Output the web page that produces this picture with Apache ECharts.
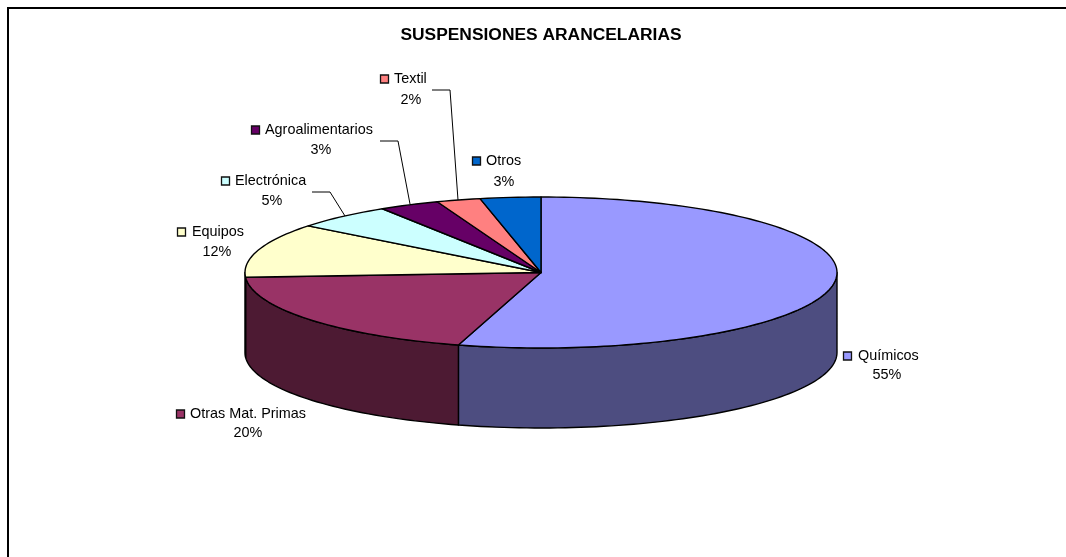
<!DOCTYPE html>
<html><head><meta charset="utf-8">
<style>html,body{margin:0;padding:0;background:#fff}#c{width:1066px;height:557px}</style>
<script src="https://cdn.jsdelivr.net/npm/echarts@6/dist/echarts.min.js"></script>
</head><body><div id="c"></div>
<script>
const chartTitle = 'SUSPENSIONES ARANCELARIAS';
const categories = ['Químicos','Otras Mat. Primas','Equipos','Electrónica','Agroalimentarios','Textil','Otros'];
const values = [54.5,19.5,11.6,5.4,3.3,2.4,3.3];
const topColors = ['#9999FF','#993366','#FFFFCC','#CCFFFF','#660066','#FF8080','#0066CC'];
const wallColors = ['#4D4D80','#4D1A33','#808066','#668080','#330033','#804040','#003366'];

const pie = {cx:541, cy:272.5, rx:296, ry:75.5, depth:80};
// label anchors: swatch left, first-line centre y, text start, percent centre x, percent centre y
const labelPos = [
  {sx:843,sy:356,tx:858,px:887,py:375},
  {sx:176,sy:414,tx:190,px:248,py:433},
  {sx:177,sy:232,tx:192,px:217,py:252},
  {sx:221,sy:181,tx:235,px:272,py:201},
  {sx:251,sy:130,tx:265,px:321,py:150},
  {sx:380,sy:79,tx:394,px:411,py:100},
  {sx:472,sy:161,tx:486,px:504,py:182}
];
const leaders = {
  3:[[312,192],[330,192],[345,216]],
  4:[[380,141],[398,141],[410,204]],
  5:[[432,90],[450,90],[458,200]]
};
const FONT = '"Liberation Sans", Arial, sans-serif';
const total = values.reduce((a,b)=>a+b,0);
const starts = values.map((v,i)=>values.slice(0,i).reduce((a,b)=>a+b,0));

function pt(deg, dy){
  const r = deg*Math.PI/180;
  return [pie.cx+pie.rx*Math.sin(r), pie.cy-pie.ry*Math.cos(r)+(dy||0)];
}
function arc(a,b,dy){
  const n = Math.max(2,Math.ceil(Math.abs(b-a)/1.5)), out=[];
  for(let i=0;i<=n;i++) out.push(pt(a+(b-a)*i/n,dy));
  return out;
}
const line = {stroke:'#000',lineWidth:1.4,lineJoin:'round'};

function renderWall(params, api){
  const s = api.value(1)/total*360, e = s+api.value(0)/total*360;
  const a = Math.max(s,90), b = Math.min(e,270);
  if(b<=a) return {type:'group',children:[]};
  const topEdge = arc(a,b,0), botEdge = arc(b,a,pie.depth);
  return {type:'polygon',shape:{points:topEdge.concat(botEdge)},
    style:Object.assign({fill:wallColors[params.dataIndex]},line)};
}
function renderTop(params, api){
  const s = api.value(1)/total*360, e = s+api.value(0)/total*360;
  return {type:'polygon',shape:{points:[[pie.cx,pie.cy]].concat(arc(s,e,0))},
    style:Object.assign({fill:topColors[params.dataIndex]},line)};
}
function renderLabel(params, api){
  const i = params.dataIndex, p = labelPos[i];
  const kids = [
    {type:'rect',shape:{x:p.sx+.5,y:p.sy-4,width:8,height:8},
      style:{fill:topColors[i],stroke:'#111',lineWidth:1.3}},
    {type:'text',style:{x:p.tx,y:p.sy,text:categories[i],font:'14.4px '+FONT,fill:'#000',textVerticalAlign:'middle',textAlign:'left'}},
    {type:'text',style:{x:p.px,y:p.py,text:Math.round(api.value(0)/total*100)+'%',font:'14.4px '+FONT,fill:'#000',textVerticalAlign:'middle',textAlign:'center'}}
  ];
  if(leaders[i]) kids.push({type:'polyline',shape:{points:leaders[i]},style:{fill:null,stroke:'#000',lineWidth:1}});
  return {type:'group',children:kids};
}
const rows = values.map((v,i)=>({name:categories[i],value:[v,starts[i]]}));
const chart = echarts.init(document.getElementById('c'),null,{renderer:'canvas'});
chart.setOption({
  backgroundColor:'#fff',
  animation:false,
  title:{text:chartTitle,left:536,top:22,textAlign:'center',
    textStyle:{fontFamily:FONT,fontSize:17.4,fontWeight:'bold',color:'#000'}},
  graphic:[{type:'rect',silent:true,z:0,shape:{x:8,y:8,width:1100,height:600},style:{fill:'none',stroke:'#000',lineWidth:2}}],
  series:[
    {type:'custom',name:'walls',coordinateSystem:'none',z:2,renderItem:renderWall,data:rows,silent:true},
    {type:'custom',name:'SUSPENSIONES ARANCELARIAS',coordinateSystem:'none',z:3,renderItem:renderTop,data:rows,silent:true},
    {type:'custom',name:'labels',coordinateSystem:'none',z:4,renderItem:renderLabel,data:rows,silent:true}
  ]
});
</script></body></html>
